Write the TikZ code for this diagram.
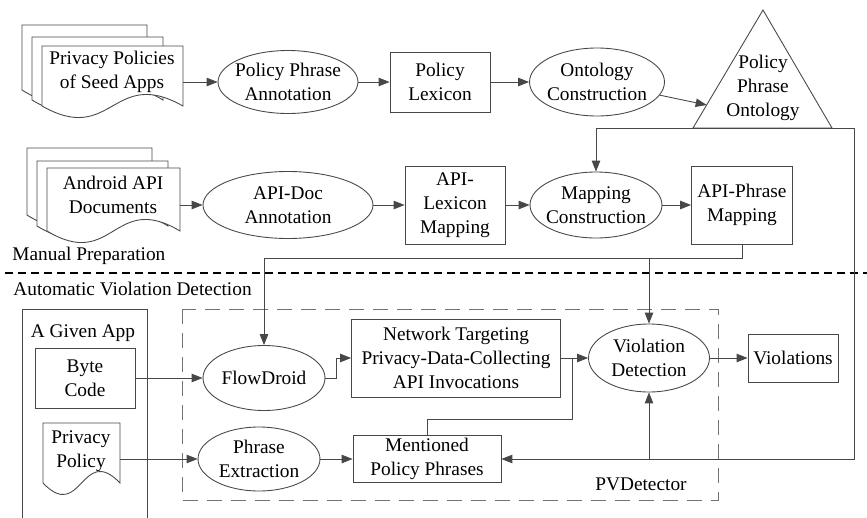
\documentclass[tikz,border=0pt]{standalone}
\usepackage{fontspec}
\setmainfont{Liberation Serif}
\usetikzlibrary{calc,arrows.meta,shapes.geometric}
\tikzset{
  arr/.style={-{Triangle[length=2.2mm,width=1.7mm]}},
  box/.style={draw,rectangle,inner sep=0pt,align=center},
  oval/.style={draw,ellipse,inner xsep=-5mm,inner ysep=-2mm,align=center},
  txt/.style={inner sep=0pt,align=center},
}
\newcommand{\docpage}[4]{\draw[fill=white] (#1,#2)--(#3,#2)--(#3,#4) .. controls ({(#1+#3)/2},{#4-40}) and ({(#1+#3)/2},{#4+40}) .. (#1,#4)--cycle;}

\begin{document}
\begin{tikzpicture}[x=0.02cm,y=-0.02cm,font=\fontsize{11}{13.6}\selectfont,color=black!72,text=black,line width=0.5pt]
\useasboundingbox (0,0) rectangle (867,518);

\docpage{22}{25}{147}{90}
\docpage{32}{37}{163}{100}
\docpage{42}{46}{183}{106}
\node[txt,minimum width=2.82cm] (seed) at (112,72) {Privacy Policies\\of Seed Apps};
\node[oval,minimum width=2.8cm,minimum height=1.26cm] (ppa) at (288,82) {Policy Phrase\\Annotation};
\node[box,minimum width=2cm,minimum height=1.2cm] (lex) at (440,82) {Policy\\Lexicon};
\node[oval,minimum width=2.7cm,minimum height=1.36cm] (onto) at (597,82) {Ontology\\Construction};
\coordinate (apex) at (763,10);
\coordinate (baseL) at (693,128);
\coordinate (baseR) at (832,128);
\draw (apex) -- (baseL) -- (baseR) -- cycle;
\node[txt] (ppo) at (763,88) {Policy\\Phrase\\Ontology};
\coordinate (triin) at ($(baseL)!0.195!(apex)$);
\draw[arr] (seed.east |- ppa) -- (ppa);
\draw[arr] (ppa) -- (lex);
\draw[arr] (lex) -- (onto);
\draw[arr] (onto) -- (triin);

\docpage{27}{148}{152}{215}
\docpage{37}{161}{168}{226}
\docpage{47}{168}{180}{231}
\node[txt,minimum width=2.66cm] (apidocs) at (113,195) {Android API\\Documents};
\node[oval,minimum width=3.4cm,minimum height=1.34cm] (apidoc) at (288,205) {API-Doc\\Annotation};
\node[box,minimum width=2cm,minimum height=1.56cm] (alm) at (455,205) {API-\\Lexicon\\Mapping};
\node[oval,minimum width=2.64cm,minimum height=1.32cm] (mapc) at (596,205) {Mapping\\Construction};
\node[box,minimum width=2.02cm,minimum height=1.56cm] (apm) at (742,205) {API-Phrase\\Mapping};
\draw[arr] (apidocs.east |- apidoc) -- (apidoc);
\draw[arr] (apidoc) -- (alm);
\draw[arr] (alm) -- (mapc);
\draw[arr] (mapc) -- (apm);

\node[anchor=base west,inner sep=0pt] (manual) at (12,260) {Manual Preparation};
\draw[black,line width=1.4pt,dash pattern=on 1.6mm off 1mm] (5,273) -- (867,273);
\node[anchor=base west,inner sep=0pt] (auto) at (13,295) {Automatic Violation Detection};

\draw (22,518) |- (147,309) -- (147,518);
\node[anchor=base,inner sep=0pt] (app) at (83,337) {A Given App};
\node[box,minimum width=2cm,minimum height=1.2cm] (byte) at (85,378) {Byte\\Code};
\docpage{43}{423}{120}{483}
\node[txt,minimum width=1.54cm] (pp) at (81,451) {Privacy\\Policy};

\draw[black!55,dash pattern=on 3mm off 1.8mm] (182,309) rectangle (718,500);
\node[anchor=base,inner sep=0pt] (pvd) at (641,490) {PVDetector};

\node[oval,minimum width=2.44cm,minimum height=1.3cm] (fd) at (264,378) {FlowDroid};
\node[box,minimum width=4.18cm,minimum height=1.56cm] (net) at (456,358) {Network Targeting\\Privacy-Data-Collecting\\API Invocations};
\node[oval,minimum width=2.44cm,minimum height=1.28cm] (pe) at (259,459) {Phrase\\Extraction};
\node[box,minimum width=2.96cm,minimum height=0.94cm] (mention) at (427,459) {Mentioned\\Policy Phrases};
\node[oval,minimum width=2.42cm,minimum height=1.36cm] (vd) at (649,358) {Violation\\Detection};
\node[box,minimum width=1.8cm,minimum height=0.96cm] (viol) at (793,358) {Violations};

\draw[arr] (byte) -- (fd);
\draw[arr] (pp.east |- pe) -- (pe);
\draw[arr] (pe) -- (mention);
\draw[arr] (fd.east) -- ++(11,0) |- (net.west);
\coordinate (join) at (572,358);
\draw (mention.north) -- ++(0,-16) -| (join);
\draw[arr] (net) -- (vd);
\draw[arr] (vd) -- (viol);

\coordinate (corner) at (854,128);
\draw[arr] (corner) -| (mapc.north);
\draw[arr] (corner) |- (mention.east);
\draw[arr] (vd.south |- mention.east) -- (vd.south);
\coordinate (split) at (742,258);
\draw[arr] (apm.south) -- (split) -| (fd.north);
\draw[arr] (split -| vd.north) -- (vd.north);
\end{tikzpicture}
\end{document}
